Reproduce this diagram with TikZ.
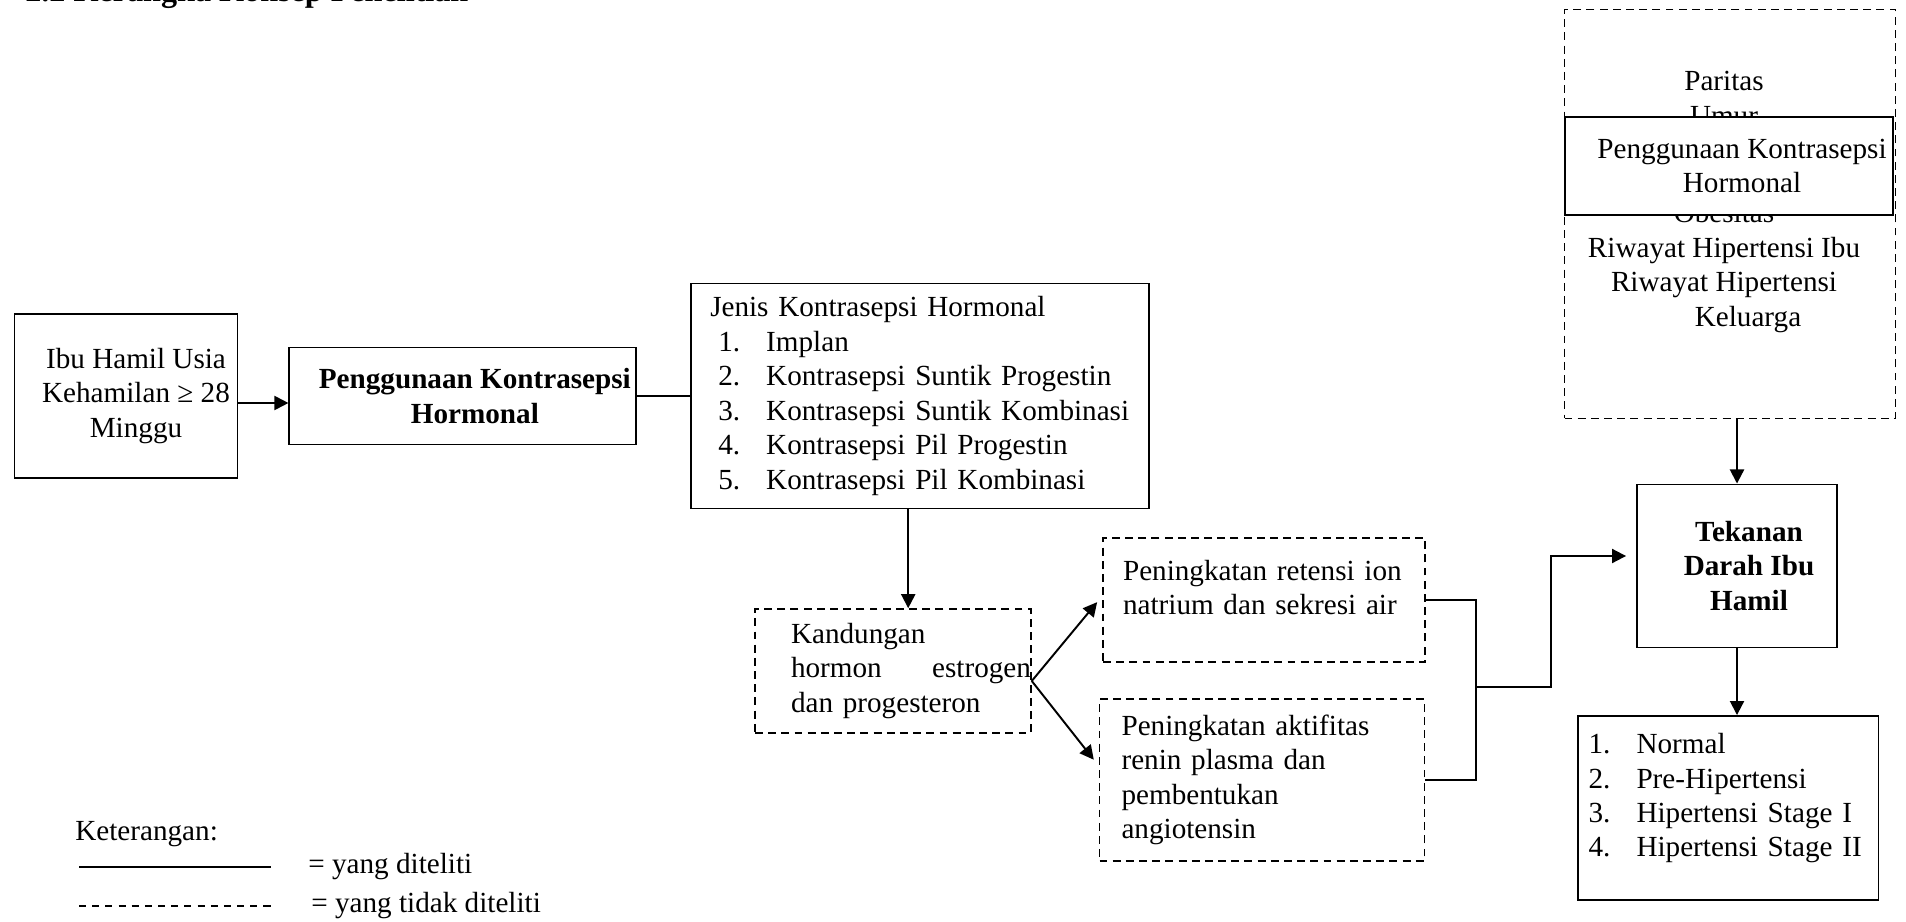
\documentclass[tikz,border=0pt]{standalone}
\usepackage{fontspec}
\setmainfont{Liberation Serif}
\usetikzlibrary{arrows.meta,positioning,calc}
\newcommand{\ukuran}{\fontsize{16.6}{19.6}\selectfont}
\newcommand{\nomor}[2]{\makebox[0.96cm][l]{#1.}#2}

\begin{document}
\begin{tikzpicture}[x=0.02cm,y=-0.02cm,font=\ukuran]
  \tikzset{bx/.style={draw,line width=1.1pt,inner sep=0pt,align=center},
    bxd/.style={bx,line width=0.9pt,dash pattern=on 4.5pt off 3pt},
    ar/.style={-{Triangle[length=8pt,width=8pt]},line width=1.1pt}}
  \useasboundingbox (0,0) rectangle (1906,922);
  \node[anchor=base west,inner sep=0pt,font=\fontsize{18.3}{22}\selectfont\bfseries] (judul) at (25,2) {2.2 Kerangka Konsep Penelitian};
  \node[bx,minimum width=4.46cm,minimum height=3.28cm] (a) at (126,396) {\hspace*{0.4cm}Ibu Hamil Usia\\\hspace*{0.4cm}Kehamilan ≥ 28\\\hspace*{0.4cm}Minggu};
  \node[bx,font=\ukuran\bfseries,minimum width=6.94cm,minimum height=1.94cm,right=1cm of a] (b) {\hspace*{0.48cm}Penggunaan Kontrasepsi\\\hspace*{0.48cm}Hormonal};
  \node[bx,align=left,text width=8.4cm,minimum width=9.16cm,minimum height=4.5cm,right=1.06cm of b] (c) {Jenis Kontrasepsi Hormonal\\
    \hspace*{0.16cm}\nomor{1}{Implan}\\
    \hspace*{0.16cm}\nomor{2}{Kontrasepsi Suntik Progestin}\\
    \hspace*{0.16cm}\nomor{3}{Kontrasepsi Suntik Kombinasi}\\
    \hspace*{0.16cm}\nomor{4}{Kontrasepsi Pil Progestin}\\
    \hspace*{0.16cm}\nomor{5}{Kontrasepsi Pil Kombinasi}};
  \node[bxd,align=left,text width=4.08cm,minimum width=5.52cm,minimum height=2.48cm] (d) at (893,671) {Kandungan\\\makebox[4.8cm][l]{hormon\hfill estrogen}\\dan progesteron};
  \node[bxd,align=left,text width=5.64cm,minimum width=6.44cm,minimum height=2.48cm] (e) at (1264,600) {Peningkatan retensi ion\\natrium dan sekresi air\\[-5pt]\mbox{}};
  \node[bxd,align=left,text width=5.62cm,minimum width=6.5cm,minimum height=3.24cm] (f) at (1262,780) {Peningkatan aktifitas\\renin plasma dan\\pembentukan\\angiotensin};
  \node[bx,font=\ukuran\bfseries,minimum width=4cm,minimum height=3.26cm] (g) at (1737,566) {\hspace*{0.48cm}Tekanan\\\hspace*{0.48cm}Darah Ibu\\\hspace*{0.48cm}Hamil};
  \node[bx,align=left,text width=5.58cm,minimum width=6.02cm,minimum height=3.68cm] (h) at (1728,808) {\nomor{1}{Normal}\\\nomor{2}{Pre-Hipertensi}\\\nomor{3}{Hipertensi Stage I}\\\nomor{4}{Hipertensi Stage II}\\[-5pt]\mbox{}};
  % faktor lain (tertutup sebagian)
  \node[bxd,minimum width=6.62cm,minimum height=8.18cm] (k) at (1730,214) {};
  \node[align=center] (l) at (1724,202) {Paritas\\Umur\\[36pt]Obesitas\\Riwayat Hipertensi Ibu\\Riwayat Hipertensi\\\hspace*{0.96cm}Keluarga};
  \node[bx,fill=white,minimum width=6.56cm,minimum height=1.96cm] (m) at (1729,166) {\hspace*{0.52cm}Penggunaan Kontrasepsi\\\hspace*{0.52cm}Hormonal};
  \draw[ar] ($(a.east)+(0,7)$) -- ($(b.west)+(0,7)$);
  \draw[line width=1.1pt] (b) -- (c);
  \coordinate (cs) at ($(c.south)+(-12,0)$);
  \draw[ar] (cs) -- (cs |- d.north);
  \draw[ar,shorten >=0.16cm] ($(d.east)+(0,10)$) -- ($(e.west)+(0,-4)$);
  \draw[ar,shorten >=0.16cm] ($(d.east)+(0,10)$) -- ($(f.west)+(0,-14)$);
  \coordinate (j) at (1476,687);
  \draw[line width=1.1pt] (e.east) -| (j) |- (f.east);
  \draw[ar,shorten >=0.2cm] (j) -- ++(75,0) |- ($(g.west)+(0,-10)$);
  \draw[ar] (k.south -| g.north) -- (g.north);
  \draw[ar] (g.south) -- (g.south |- h.north);
  % keterangan
  \node[anchor=west,inner sep=0pt] (ket) at (75,834) {Keterangan:};
  \node[anchor=west,inner sep=0pt] (ya) at (308,867) {= yang diteliti};
  \node[anchor=west,inner sep=0pt] (tidak) at (311,906) {= yang tidak diteliti};
  \draw[line width=1.1pt] (79,867) -- (271,867);
  \draw[line width=0.9pt,dash pattern=on 4pt off 3.5pt] (79,906) -- (271,906);
\end{tikzpicture}
\end{document}
